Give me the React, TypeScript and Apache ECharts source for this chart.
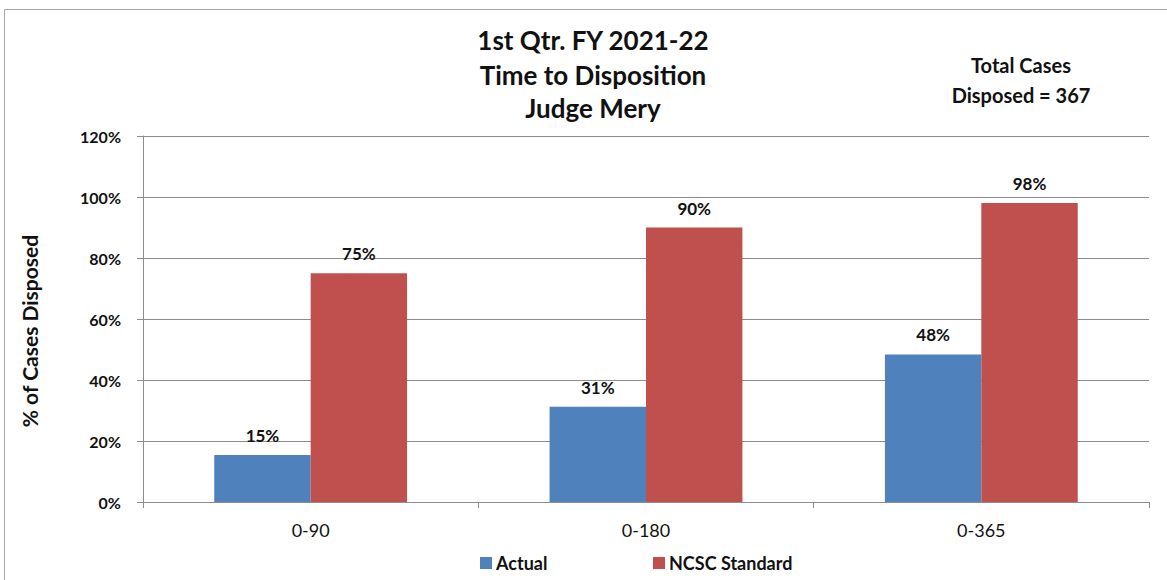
import React, { useEffect, useRef } from "react";
import * as echarts from "echarts";

const categories = ["0-90", "0-180", "0-365"];
const actualValues = [15.4, 31.2, 48.4];
const standardValues = [75, 90, 98];
const seriesNames = ["Actual", "NCSC Standard"];
const titleLines = ["1st Qtr. FY 2021-22", "Time to Disposition", "Judge Mery"];
const noteLines = ["Total Cases", "Disposed = 367"];
const yAxisName = "% of Cases Disposed";

const FONT = "Lato, 'Open Sans', sans-serif";

export default function App() {
  const ref = useRef<HTMLDivElement>(null);
  useEffect(() => {
    if (!ref.current) return;
    const chart = echarts.init(ref.current, null, { renderer: "svg" });
    const labelCfg = {
      show: true,
      position: "top",
      distance: 11,
      formatter: (p: any) => Math.round(p.value) + "%",
      fontFamily: FONT,
      fontWeight: "bold",
      fontSize: 17,
      color: "#111",
    };
    const titleY = [40, 75, 108];
    const noteY = [65, 95];
    chart.setOption({
      animation: false,
      backgroundColor: "#fff",
      textStyle: { fontFamily: FONT },
      grid: { left: 143, top: 136, right: 18, bottom: 78, containLabel: false },
      graphic: [
        {
          type: "rect",
          shape: { x: 4.5, y: 9.5, width: 1200, height: 600 },
          style: { fill: "none", stroke: "#a6a6a6", lineWidth: 1 },
          silent: true,
        },
        ...titleLines.map((t, i) => ({
          type: "text",
          x: 593,
          y: titleY[i],
          style: {
            text: t,
            fontFamily: FONT,
            fontWeight: "bold",
            fontSize: 26,
            fill: "#111",
            align: "center",
            verticalAlign: "middle",
          },
        })),
        ...noteLines.map((t, i) => ({
          type: "text",
          x: 1021,
          y: noteY[i],
          style: {
            text: t,
            fontFamily: FONT,
            fontWeight: "bold",
            fontSize: 20,
            fill: "#111",
            align: "center",
            verticalAlign: "middle",
          },
        })),
        {
          type: "text",
          x: 29,
          y: 331,
          rotation: Math.PI / 2,
          style: {
            text: yAxisName,
            fontFamily: FONT,
            fontWeight: "bold",
            fontSize: 21,
            fill: "#111",
            align: "center",
            verticalAlign: "middle",
          },
        },
      ],
      legend: [
        {
          data: [seriesNames[0]],
          left: 475,
          top: 549,
          itemWidth: 12,
          itemHeight: 12,
          itemGap: 5,
          icon: "rect",
          textStyle: { fontFamily: FONT, fontWeight: "bold", fontSize: 18, color: "#111", padding: [0, 0, 0, -1] },
        },
        {
          data: [seriesNames[1]],
          left: 648,
          top: 549,
          itemWidth: 12,
          itemHeight: 12,
          itemGap: 5,
          icon: "rect",
          textStyle: { fontFamily: FONT, fontWeight: "bold", fontSize: 18, color: "#111", padding: [0, 0, 0, -1] },
        },
      ],
      xAxis: {
        type: "category",
        data: categories,
        axisLine: { show: true, lineStyle: { color: "#8c8c8c", width: 1 } },
        axisTick: { show: true, length: 6, lineStyle: { color: "#8c8c8c" } },
        axisLabel: { fontFamily: FONT, fontSize: 18, color: "#111", margin: 19 },
        splitLine: { show: false },
      },
      yAxis: {
        type: "value",
        min: 0,
        max: 120,
        interval: 20,
        axisLine: { show: true, lineStyle: { color: "#8c8c8c", width: 1 } },
        axisTick: { show: true, length: 6, inside: false, lineStyle: { color: "#8c8c8c" } },
        axisLabel: {
          formatter: "{value}%",
          fontFamily: FONT,
          fontWeight: "bold",
          fontSize: 16,
          color: "#111",
          margin: 22,
        },
        splitLine: { show: true, lineStyle: { color: "#8c8c8c", width: 1 } },
      },
      series: [
        {
          name: seriesNames[0],
          type: "bar",
          data: actualValues,
          barGap: "0%",
          barCategoryGap: "42.5%",
          itemStyle: { color: "#4F81BD" },
          label: labelCfg,
        },
        {
          name: seriesNames[1],
          type: "bar",
          data: standardValues,
          barGap: "0%",
          barCategoryGap: "42.5%",
          itemStyle: { color: "#C0504D" },
          label: labelCfg,
        },
      ],
    });
    return () => chart.dispose();
  }, []);
  return (
    <div
      ref={ref}
      style={{ position: "fixed", left: 0, top: 0, width: 1167, height: 580 }}
    />
  );
}
